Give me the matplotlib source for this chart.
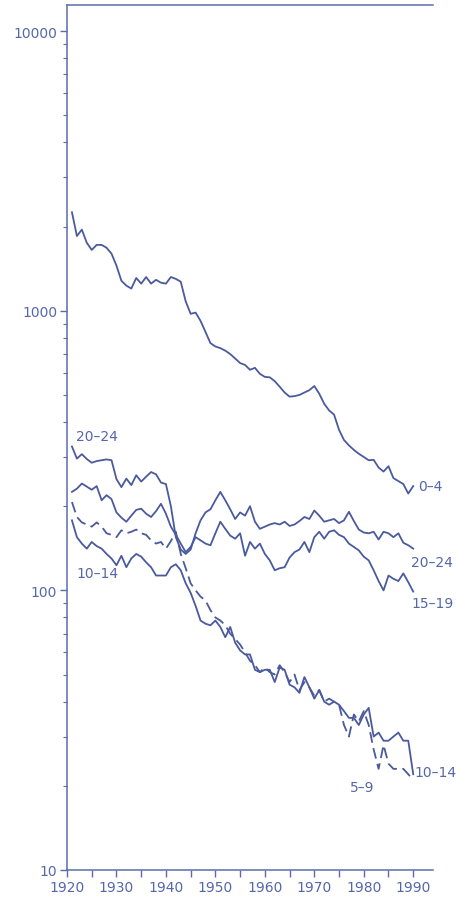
import matplotlib
matplotlib.use("Agg")
import matplotlib.pyplot as plt
from matplotlib.ticker import FixedLocator, NullFormatter, LogLocator
import numpy as np

years = list(range(1921, 1991))

age_0_4 = [2250, 1850, 1950, 1750, 1650, 1720, 1720, 1680, 1600, 1450,
           1280, 1230, 1200, 1310, 1250, 1320, 1250, 1290, 1260, 1250,
           1320, 1300, 1270, 1080, 975, 985, 920, 840, 766, 745,
           735, 720, 700, 675, 650, 640, 615, 625, 595, 580,
           578, 560, 535, 510, 493, 495, 500, 510, 520, 538,
           505, 465, 440, 425, 375, 345, 330, 318, 308, 300,
           292, 293, 275, 266, 278, 252, 246, 240, 222, 236]

age_20_24 = [327, 296, 307, 295, 286, 290, 292, 294, 292, 250,
             234, 251, 238, 258, 245, 255, 265, 260, 243, 240,
             200, 155, 140, 135, 140, 160, 178, 190, 195, 210,
             225, 210, 195, 180, 190, 185, 200, 176, 166, 169,
             172, 174, 172, 176, 170, 172, 177, 183, 180, 193,
             185, 176, 178, 180, 174, 178, 191, 177, 165, 161,
             160, 162, 152, 162, 160, 155, 160, 148, 145, 141]

age_15_19 = [225, 231, 241, 235, 229, 236, 210, 219, 212, 190,
             182, 176, 185, 194, 196, 188, 183, 192, 204, 188,
             169, 158, 147, 137, 143, 155, 151, 147, 145, 160,
             176, 166, 157, 153, 160, 133, 149, 141, 147, 135,
             128, 118, 120, 121, 131, 137, 140, 149, 137, 155,
             162, 153, 162, 164, 158, 155, 147, 143, 139, 132,
             128, 118, 108, 100, 113, 110, 108, 115, 107, 99]

age_5_9 = [207, 183, 175, 172, 169, 175, 169, 160, 158, 155,
           164, 160, 162, 165, 160, 158, 151, 147, 149, 141,
           150, 162, 135, 120, 106, 100, 95, 92, 85, 80,
           78, 75, 70, 67, 64, 60, 56, 54, 51, 53,
           51, 50, 54, 51, 47, 50, 44, 47, 45, 42,
           44, 40, 41, 40, 39, 33, 30, 36, 34, 37,
           33, 27, 23, 28, 24, 23, 23, 23, 22, 21]

age_10_14 = [178, 155, 147, 141, 149, 144, 141, 135, 130, 123,
             133, 121, 130, 135, 132, 126, 121, 113, 113, 113,
             121, 124, 118, 106, 98, 88, 78, 76, 75, 78,
             74, 68, 74, 65, 61, 59, 59, 52, 51, 52,
             52, 47, 53, 52, 46, 45, 43, 49, 45, 41,
             44, 40, 39, 40, 39, 37, 35, 35, 33, 36,
             38, 30, 31, 29, 29, 30, 31, 29, 29, 22]

x_tick_labels = ["1920", "1930", "1940", "1950", "1960", "1970", "1980", "1990"]
y_tick_values = [10, 100, 1000, 10000]
y_tick_labels = ["10", "100", "1000", "10000"]

line_color = "#4a5a9c"
text_color = "#5567ab"
axis_color = "#5b6cab"

W, H = 457, 904
fig = plt.figure(figsize=(W / 100, H / 100), dpi=100)
left, right, top, bottom = 67, 433, 6, 871
ax = fig.add_axes([left / W, 1 - bottom / H, (right - left) / W, (bottom - top) / H])

lw = 1.3
ax.plot(years, age_0_4, color=line_color, lw=lw)
ax.plot(years, age_20_24, color=line_color, lw=lw)
ax.plot(years, age_15_19, color=line_color, lw=lw)
ax.plot(years, age_10_14, color=line_color, lw=lw)
ax.plot(years, age_5_9, color=line_color, lw=lw, dashes=(6, 3))

ax.set_yscale("log")
ax.set_xlim(1920, 1994)
ax.set_ylim(10, 12400)

ax.yaxis.set_major_locator(FixedLocator(y_tick_values))
ax.set_yticklabels(y_tick_labels)
ax.yaxis.set_minor_locator(LogLocator(base=10, subs=np.arange(2, 10)))
ax.yaxis.set_minor_formatter(NullFormatter())

ax.set_xticks(list(range(1920, 1995, 5)))
ax.set_xticklabels([lbl if (int(v) % 10 == 0 and v <= 1990) else ""
                    for v, lbl in zip(range(1920, 1995, 5),
                                      [str(y) for y in range(1920, 1995, 5)])])
ax.set_xticks([], minor=True)

ax.tick_params(axis="both", which="major", direction="out", length=5, width=1,
               color=axis_color, labelcolor=text_color, labelsize=10, pad=2)
ax.tick_params(axis="y", which="minor", direction="out", length=3, width=0.8,
               color=axis_color)

for s in ["left", "bottom", "top"]:
    ax.spines[s].set_color(axis_color)
    ax.spines[s].set_linewidth(1.1)
ax.spines["right"].set_visible(False)

def lab(xp, yp, s):
    fig.text(xp / W, 1 - yp / H, s, color=text_color, fontsize=10,
             ha="left", va="center")

lab(76, 437, "20\u201324")
lab(76, 574, "10\u201314")
lab(418, 487, "0\u20134")
lab(411, 563, "20\u201324")
lab(411, 604, "15\u201319")
lab(414, 773, "10\u201314")
lab(350, 788, "5\u20139")

fig.savefig("out.png", dpi=100)
